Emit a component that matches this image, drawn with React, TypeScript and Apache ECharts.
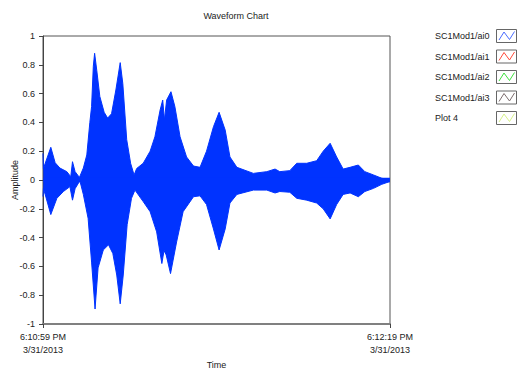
import React, { useEffect, useRef } from 'react';
import * as echarts from 'echarts';

// Time axis: seconds from 6:10:59 PM to 6:12:19 PM (80 s)
const timeMin = 0;
const timeMax = 80;
const timeTickLabels = ['6:10:59 PM\n3/31/2013', '6:12:19 PM\n3/31/2013'];
const yTickLabels = ['-1', '-0.8', '-0.6', '-0.4', '-0.2', '0', '0.2', '0.4', '0.6', '0.8', '1'];

const chartTitle = 'Waveform Chart';
const xName = 'Time';
const yName = 'Amplitude';

// Envelope of SC1Mod1/ai0 (dense oscillation) – upper and lower bounds
const upperTimes = [0, 0.1, 1.8, 2.8, 3.9, 5.5, 6.4, 6.8, 7.4, 8.4, 9.3, 10.1, 10.8, 11.2, 11.6, 11.9, 12.4, 13.1, 14.1, 14.9, 15.8, 16.8, 17.8, 18.4, 19.3, 20.2, 21.0, 21.6, 23.1, 24.7, 25.8, 27.0, 27.6, 28.0, 28.5, 29.5, 30.4, 31.6, 33.1, 34.7, 36.2, 37.7, 39.3, 40.6, 42.0, 43.1, 44.7, 48.5, 51.6, 53.5, 54.6, 56.9, 58.5, 60.8, 63.1, 64.6, 66.2, 67.7, 69.2, 70.8, 72.7, 74.2, 76.2, 78.1, 80];
const upperValues = [0.185, 0.08, 0.227, 0.12, 0.083, 0.058, 0.023, 0.127, 0.058, 0.018, 0.083, 0.174, 0.4, 0.51, 0.79, 0.88, 0.76, 0.58, 0.47, 0.43, 0.46, 0.625, 0.815, 0.67, 0.28, 0.116, 0.035, 0.08, 0.116, 0.2, 0.3, 0.486, 0.555, 0.417, 0.555, 0.613, 0.51, 0.3, 0.16, 0.097, 0.088, 0.2, 0.37, 0.47, 0.347, 0.16, 0.088, 0.046, 0.058, 0.076, 0.058, 0.065, 0.116, 0.116, 0.134, 0.2, 0.255, 0.16, 0.076, 0.088, 0.104, 0.058, 0.035, 0.012, 0.0];
const lowerTimes = [0, 0.1, 0.5, 1.8, 3.2, 4.7, 6.2, 6.8, 7.4, 8.5, 9.3, 10.4, 11.2, 12.0, 12.7, 13.9, 15.1, 16.1, 17.0, 17.8, 18.5, 19.4, 20.4, 21.2, 23.1, 24.7, 26.2, 27.4, 27.9, 28.4, 29.4, 30.8, 32.3, 34.7, 36.2, 37.7, 39.3, 40.6, 42.0, 43.1, 44.7, 48.5, 51.6, 53.5, 54.6, 56.9, 58.5, 60.8, 63.1, 64.6, 66.2, 67.7, 69.2, 70.8, 72.7, 74.2, 76.2, 78.1, 80];
const lowerValues = [-0.115, -0.06, -0.1, -0.24, -0.127, -0.08, -0.046, -0.14, -0.06, -0.005, -0.1, -0.266, -0.57, -0.896, -0.61, -0.486, -0.45, -0.51, -0.66, -0.86, -0.66, -0.31, -0.127, -0.07, -0.15, -0.22, -0.36, -0.58, -0.49, -0.52, -0.65, -0.43, -0.22, -0.116, -0.11, -0.17, -0.34, -0.486, -0.34, -0.16, -0.1, -0.07, -0.07, -0.09, -0.08, -0.085, -0.127, -0.14, -0.16, -0.2, -0.27, -0.17, -0.1, -0.09, -0.116, -0.08, -0.058, -0.03, -0.01];

const legendNames = ['SC1Mod1/ai0', 'SC1Mod1/ai1', 'SC1Mod1/ai2', 'SC1Mod1/ai3', 'Plot 4'];
const legendColors = ['#4a6cff', '#ff4a3a', '#3ee03e', '#7d6e6e', '#d6f08a'];

const FONT = '"Liberation Sans", Arial, sans-serif';
const WAVE = '#0033ff';

export default function App() {
  const ref = useRef<HTMLDivElement>(null);
  useEffect(() => {
    if (!ref.current) return;
    const chart = echarts.init(ref.current, null, { renderer: 'svg' });

    const upper = upperTimes.map((t, i) => [t, upperValues[i]]);
    const lower = lowerTimes.map((t, i) => [t, lowerValues[i]]);

    const legendGraphics: any[] = [];
    legendNames.forEach((name, i) => {
      const cy = 36 + i * 20.5;
      legendGraphics.push({
        type: 'text',
        x: 435,
        y: cy,
        style: { text: name, fill: '#222', font: `9px ${FONT}`, align: 'left', verticalAlign: 'middle' },
      });
      legendGraphics.push({
        type: 'rect',
        shape: { x: 496.5, y: cy - 6.5, width: 20, height: 13 },
        style: { fill: '#fff', stroke: '#666', lineWidth: 1 },
      });
      legendGraphics.push({
        type: 'polyline',
        shape: { points: [[499, cy + 4], [504, cy - 4], [509.5, cy + 3.5], [514.5, cy - 4.5]] },
        style: { stroke: legendColors[i], lineWidth: 1, fill: 'none' },
      });
    });

    chart.setOption({
      animation: false,
      textStyle: { fontFamily: FONT },
      grid: {
        left: 43, right: 134, top: 36, bottom: 46,
        containLabel: false, outerBoundsMode: 'none',
        show: true, borderColor: '#555', borderWidth: 1, backgroundColor: '#fff',
      },
      graphic: [
        {
          type: 'text',
          x: 236,
          y: 16,
          style: { text: chartTitle, fill: '#222', font: `9px ${FONT}`, align: 'center', verticalAlign: 'middle' },
        },
        ...legendGraphics,
      ],
      xAxis: {
        type: 'value',
        min: timeMin,
        max: timeMax,
        interval: timeMax - timeMin,
        name: xName,
        nameLocation: 'middle',
        nameGap: 36,
        nameMoveOverlap: false,
        nameTextStyle: { color: '#222', fontSize: 9, fontFamily: FONT },
        axisLine: { show: true, onZero: false, lineStyle: { color: '#808080', width: 2 } },
        axisTick: { show: true, length: 4, lineStyle: { color: '#444' } },
        axisLabel: {
          color: '#222',
          fontSize: 9,
          lineHeight: 13,
          margin: 6,
          formatter: (v: number) => (v === timeMin ? timeTickLabels[0] : v === timeMax ? timeTickLabels[1] : ''),
        },
        splitLine: { show: false },
      },
      yAxis: {
        type: 'value',
        min: -1,
        max: 1,
        interval: 0.2,
        name: yName,
        nameLocation: 'middle',
        nameRotate: 90,
        nameGap: 24,
        nameMoveOverlap: false,
        nameTextStyle: { color: '#222', fontSize: 9, fontFamily: FONT },
        axisLine: { show: true, lineStyle: { color: '#444', width: 1 } },
        axisTick: { show: true, length: 4, lineStyle: { color: '#444' } },
        axisLabel: {
          color: '#222',
          fontSize: 9,
          margin: 8,
          formatter: (v: number) => yTickLabels[Math.round((v + 1) / 0.2)] ?? '',
        },
        splitLine: { show: false },
      },
      series: [
        {
          name: legendNames[0],
          type: 'line',
          data: upper,
          showSymbol: false,
          lineStyle: { color: WAVE, width: 1 },
          areaStyle: { color: WAVE, opacity: 1, origin: -0.015 },
          itemStyle: { color: WAVE },
        },
        {
          name: legendNames[0] + ' ',
          type: 'line',
          data: lower,
          showSymbol: false,
          lineStyle: { color: WAVE, width: 1 },
          areaStyle: { color: WAVE, opacity: 1, origin: 0.015 },
          itemStyle: { color: WAVE },
        },
      ],
    });
    return () => chart.dispose();
  }, []);
  return <div ref={ref} style={{ position: 'absolute', left: 0, top: 0, width: 524, height: 370, background: '#fff' }} />;
}
